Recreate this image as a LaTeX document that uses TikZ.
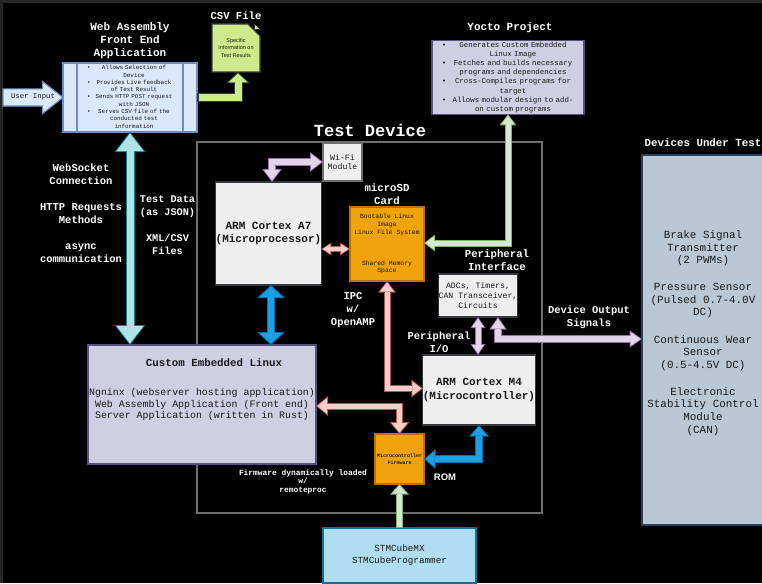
\documentclass[tikz,border=0pt]{standalone}
\usepackage{fontspec}
\setmainfont{Liberation Mono}
\setsansfont{Liberation Sans}
\usetikzlibrary{arrows.meta,shapes.arrows,shapes.misc,calc}

\definecolor{bgedge}{HTML}{262626}
\definecolor{framegray}{HTML}{6E6E6E}
\definecolor{webfill}{HTML}{DAE8FC}
\definecolor{webdraw}{HTML}{6C8EBF}
\definecolor{csvfill}{HTML}{CDEB8B}
\definecolor{csvdraw}{HTML}{36393D}
\definecolor{yoctofill}{HTML}{D0CEE2}
\definecolor{yoctodraw}{HTML}{56517E}
\definecolor{greyfill}{HTML}{EEEEEE}
\definecolor{greydraw}{HTML}{36393D}
\definecolor{sdfill}{HTML}{F0A30A}
\definecolor{sddraw}{HTML}{BD7000}
\definecolor{dutfill}{HTML}{BAC8D3}
\definecolor{dutdraw}{HTML}{23445D}
\definecolor{stmfill}{HTML}{B1DDF0}
\definecolor{stmdraw}{HTML}{10739E}
\definecolor{cyanfill}{HTML}{B0E3E6}
\definecolor{cyandraw}{HTML}{0E8088}
\definecolor{bluefill}{HTML}{1BA1E2}
\definecolor{bluedraw}{HTML}{006EAF}
\definecolor{purpfill}{HTML}{E1D5E7}
\definecolor{purpdraw}{HTML}{9673A6}
\definecolor{redfill}{HTML}{F8CECC}
\definecolor{reddraw}{HTML}{B85450}
\definecolor{grnfill}{HTML}{D5E8D4}
\definecolor{grndraw}{HTML}{82B366}

% bullet line: bullet box width, text box width, text
\newcommand{\bitem}[3]{\lineskip=0pt\makebox[#1][c]{\textbullet}\parbox[t]{#2}{\centering\strut #3\strut}\par}

% block arrow: fill, border, shaft, head width, head length, tips, path
\newcommand{\fatarrow}[7]{%
  \pgfmathsetmacro{\fatOutS}{#3+2}%
  \pgfmathsetmacro{\fatOutL}{#5+2.5}%
  \pgfmathsetmacro{\fatOutW}{#4*(#5+2.5)/#5}%
  \draw[#2,line width=\fatOutS pt,line join=miter,
    >={Triangle[length=\fatOutL pt,width=\fatOutW pt,line width=0pt]},#6] #7;
  \draw[#1,line width=#3pt,line join=miter,shorten <=1.5pt,shorten >=1.5pt,
    >={Triangle[length=#5pt,width=#4pt,line width=0pt]},#6] #7;
}

\begin{document}
\begin{tikzpicture}[x=1pt,y=-1pt,line width=1.2pt,
  box/.style={draw,outer sep=0pt,inner sep=0pt,align=center,text=black!90},
  lbl/.style={text=white,align=center,inner sep=0pt,font=\bfseries\fontsize{10.5}{13}\selectfont}]
\useasboundingbox (0,0) rectangle (762,583);
\clip (0,0) rectangle (762,583);
\fill[bgedge] (0,0) rectangle (762,583);
\fill[black] (3,3) rectangle (762,583);

% test device frame
\node[draw=framegray,minimum width=345pt,minimum height=371pt,outer sep=0pt] (frame) at (369.5,327.5) {};
\node[lbl,font=\bfseries\fontsize{17}{20}\selectfont] (devtitle) at (370,130) {Test Device};

% front end application
\node[lbl,font=\bfseries\fontsize{11}{13}\selectfont] (webtitle) at (130,41) {Web Assembly\\Front End\\Application};
\node[box,draw=webdraw,fill=webfill,minimum width=134pt,minimum height=69pt,text width=90pt,font=\fontsize{5.9}{7.3}\selectfont] (web) at (130,97.5) {%
  \bitem{8pt}{82pt}{Allows Selection of\\Device}%
  \bitem{8pt}{82pt}{Provides Live feedback\\of Test Result}%
  \bitem{8pt}{82pt}{Sends HTTP POST request\\with JSON}%
  \bitem{8pt}{82pt}{Serves CSV file of the\\conducted test\\information}};
\draw[webdraw] ([xshift=14pt]web.north west) -- ([xshift=14pt]web.south west);
\draw[webdraw] ([xshift=-14pt]web.north east) -- ([xshift=-14pt]web.south east);

\node[single arrow,draw=webdraw,fill=webfill,minimum height=60pt,inner xsep=0pt,inner ysep=8pt,
  single arrow head extend=7.5pt,single arrow tip angle=76,anchor=tip] (user) at (64,97.5) {};
\node[font=\fontsize{7.3}{8}\selectfont,text=black!90,inner sep=0pt] (usertxt) at (33,97) {User Input};

% csv file
\node[lbl,font=\bfseries\fontsize{10.6}{13}\selectfont] (csvtitle) at (236,16) {CSV File};
\node[chamfered rectangle,chamfered rectangle corners=north east,chamfered rectangle xsep=6pt,chamfered rectangle ysep=6pt,
  draw=csvdraw,fill=csvfill,minimum width=48pt,minimum height=48pt,inner sep=0pt,outer sep=0pt,align=center,
  font=\sffamily\fontsize{5.5}{7.2}\selectfont,text=black!90] (csv) at (236,48) {Specific\\Information on\\Test Results};
\draw[csvdraw,fill=csvfill,line width=1pt] ($(csv.north -| csv.east)+(-6,0)$) -- ($(csv.north -| csv.east)+(-6,6)$) -- ($(csv.north -| csv.east)+(0,6)$);

% yocto
\node[lbl,font=\bfseries\fontsize{10.9}{13}\selectfont] (yoctotitle) at (510,28) {Yocto Project};
\node[box,draw=yoctodraw,fill=yoctofill,minimum width=152pt,minimum height=73pt,text width=140pt,font=\fontsize{7.4}{9.2}\selectfont] (yocto) at (508,77.5) {%
  \bitem{10pt}{128pt}{Generates Custom Embedded\\Linux Image}%
  \bitem{10pt}{128pt}{Fetches and builds necessary\\programs and dependencies}%
  \bitem{10pt}{128pt}{Cross-Compiles programs for\\target}%
  \bitem{10pt}{128pt}{Allows modular design to add-\\on custom programs}};

% inside the test device
\node[box,draw=framegray,fill=greyfill,minimum width=39pt,minimum height=38pt,font=\fontsize{8.2}{9.4}\selectfont] (wifi) at (342.5,162) {Wi-Fi\\Module};
\node[box,draw=greydraw,fill=greyfill,minimum width=103pt,minimum height=103pt,font=\bfseries\fontsize{11}{13.4}\selectfont] (a7) at (268.5,233.5) {ARM Cortex A7\\(Microprocessor)};
\node[lbl,font=\bfseries\fontsize{10.7}{13}\selectfont] (sdtitle) at (387,194.5) {microSD\\Card};
\node[box,draw=sddraw,fill=sdfill,minimum width=74pt,minimum height=74pt,font=\fontsize{6.4}{7.8}\selectfont] (sd) at (387,244) {Bootable Linux\\Image\\Linux File System\\[23.2pt]Shared Memory\\Space};
\node[lbl,font=\bfseries\fontsize{10.7}{13}\selectfont] (periphtitle) at (497,260.5) {Peripheral\\Interface};
\node[box,draw=greydraw,fill=greyfill,minimum width=78pt,minimum height=43pt,font=\fontsize{8.2}{9.7}\selectfont] (periph) at (478,295.5) {ADCs, Timers,\\CAN Transceiver,\\Circuits};
\node[box,draw=greydraw,fill=greyfill,minimum width=108pt,minimum height=70pt,font=\bfseries\fontsize{11}{13.4}\selectfont] (m4) at (479,390) {ARM Cortex M4\\(Microcontroller)};
\node[box,draw=sddraw,fill=sdfill,minimum width=49pt,minimum height=50pt,font=\bfseries\fontsize{5}{6.6}\selectfont] (fw) at (399.5,459) {Microcontroller\\Firmware};

% custom linux
\node[box,draw=yoctodraw,fill=yoctofill,minimum width=228pt,minimum height=119pt] (linux) at (202,404.5) {};
\node[text=black!90,inner sep=0pt,font=\bfseries\fontsize{10.8}{13}\selectfont] (linuxtitle) at (214,363) {Custom Embedded Linux};
\node[text=black!90,inner sep=0pt,align=center,font=\fontsize{9.9}{11.8}\selectfont] (linuxtxt) at (202,404.5) {Ngninx (webserver hosting application)\\Web Assembly Application (Front end)\\Server Application (written in Rust)};

% programming tools
\node[box,draw=stmdraw,fill=stmfill,minimum width=153pt,minimum height=55pt,font=\fontsize{9.3}{12}\selectfont] (stm) at (399.5,555.5) {STMCubeMX\\STMCubeProgrammer};

% devices under test
\node[lbl,font=\bfseries\fontsize{10.8}{13}\selectfont] (duttitle) at (703,143) {Devices Under Test};
\node[box,draw=dutdraw,fill=dutfill,minimum width=134pt,minimum height=370pt] (dut) at (709,340) {};
\node[text=black!90,inner sep=0pt,align=center,font=\fontsize{10.9}{12.6}\selectfont] (duttxt) at (703,333) {Brake Signal\\Transmitter\\(2 PWMs)\\[14.5pt]Pressure Sensor\\(Pulsed 0.7-4.0V\\DC)\\[14.5pt]Continuous Wear\\Sensor\\(0.5-4.5V DC)\\[14.5pt]Electronic\\Stability Control\\Module\\(CAN)};

% labels
\node[lbl] (wslbl) at (81,213) {WebSocket\\Connection\\[13pt]HTTP Requests\\Methods\\[13pt]async\\communication};
\node[lbl,font=\bfseries\fontsize{10.2}{13}\selectfont] (datalbl) at (167.5,225.5) {Test Data\\(as JSON)\\[13pt]XML/CSV\\Files};
\node[lbl] (ipclbl) at (353,310) {IPC\\w/\\OpenAMP};
\node[lbl] (iolbl) at (439,342.5) {Peripheral\\I/O};
\node[lbl] (outlbl) at (589,317.5) {Device Output\\Signals};
\node[lbl,font=\bfseries\fontsize{7.9}{8.3}\selectfont] (loadlbl) at (303,481.7) {Firmware dynamically loaded\\w/\\remoteproc};
\node[lbl,font=\sffamily\bfseries\fontsize{9.5}{11}\selectfont] (romlbl) at (445,477) {ROM};

% connectors
\fatarrow{csvfill}{csvdraw}{7}{19.5}{9}{->}{(web.east) -| ($(csv.south)+(2,0)$)}
\fatarrow{cyanfill}{cyandraw}{7}{27}{17.5}{<->}{(web.south) -- (web.south |- linux.north)}
\fatarrow{bluefill}{bluedraw}{6}{22.6}{10.5}{<->}{([xshift=2.5pt]a7.south) -- ([xshift=2.5pt]a7.south |- linux.north)}
\fatarrow{purpfill}{purpdraw}{6}{16}{10.5}{<->}{([xshift=3.5pt]a7.north) |- (wifi.west)}
\fatarrow{redfill}{reddraw}{4}{9.75}{7.5}{<->}{([yshift=-5pt]sd.west -| a7.east) -- ([yshift=-5pt]sd.west)}
\fatarrow{grnfill}{grndraw}{5}{13}{8.5}{<->}{(yocto.south) |- ([yshift=1pt]sd.east)}
\fatarrow{redfill}{reddraw}{5}{14}{9}{<->}{(sd.south) |- ([yshift=1.5pt]m4.west)}
\fatarrow{redfill}{reddraw}{5}{15.8}{9.5}{<->}{([yshift=-1.5pt]linux.east) -| (fw.north)}
\fatarrow{bluefill}{bluedraw}{6}{15.6}{9}{<->}{(fw.east) -| (m4.south)}
\fatarrow{grnfill}{grndraw}{5}{14.6}{8}{->}{(stm.north) -- (fw.south)}
\fatarrow{purpfill}{purpdraw}{5}{11.6}{8.5}{<->}{(periph.south) -- (periph.south |- m4.north)}
\fatarrow{purpfill}{purpdraw}{6}{14}{10}{<->}{([xshift=20pt]periph.south) |- ([yshift=1pt]dut.west)}
\end{tikzpicture}
\end{document}
